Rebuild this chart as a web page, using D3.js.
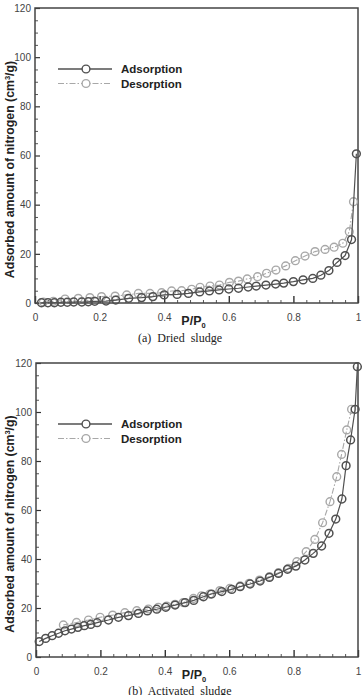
<!DOCTYPE html>
<html>
<head>
<meta charset="utf-8">
<script src="https://cdn.jsdelivr.net/npm/d3@7"></script>
<style>
  body { margin: 0; background: #fff; }
  svg { display: block; }
  .tick text { font-family: Arial, "Liberation Sans", sans-serif; font-size: 10px; fill: #444; }
</style>
</head>
<body>
<div id="chart"></div>
<script>
// 画布
const width = 362;
const height = 695;

// (a) 干污泥 吸附 / 脱附
const dryAdsP = [0.02,0.04,0.06,0.08,0.10,0.12,0.145,0.165,0.185,0.22,0.25,0.29,0.33,0.365,0.40,0.44,0.475,0.51,0.54,0.57,0.60,0.63,0.66,0.685,0.715,0.745,0.77,0.80,0.83,0.86,0.885,0.91,0.935,0.96,0.98,0.995];
const dryAdsV = [0.1,0.1,0.1,0.3,0.3,0.4,0.4,0.5,0.7,0.8,1.2,1.9,2.2,2.6,3.3,3.5,3.9,4.5,4.9,5.3,5.7,6.0,6.5,6.9,7.3,7.7,8.1,8.7,9.4,10.0,11.3,13.2,16.5,19.3,25.8,60.7];
const dryDesP = [0.986,0.973,0.953,0.926,0.898,0.867,0.836,0.806,0.776,0.746,0.717,0.689,0.657,0.630,0.602,0.571,0.542,0.511,0.485,0.454,0.423,0.392,0.356,0.320,0.284,0.248,0.206,0.170,0.134,0.093,0.057,0.026];
const dryDesV = [41.2,29.0,24.3,22.7,21.8,20.9,19.1,17.2,15.1,13.4,12.1,10.7,9.8,8.9,8.4,7.3,6.9,6.4,5.6,5.0,4.9,4.2,3.9,3.9,3.3,2.8,2.6,2.2,1.9,1.6,0.7,0.4];

// (b) 活性污泥 吸附 / 脱附
const actAdsP = [0.01,0.03,0.05,0.07,0.09,0.11,0.13,0.15,0.17,0.19,0.225,0.256,0.287,0.318,0.346,0.375,0.403,0.432,0.463,0.49,0.52,0.545,0.577,0.608,0.634,0.665,0.696,0.725,0.753,0.781,0.807,0.835,0.861,0.887,0.910,0.931,0.950,0.963,0.977,0.991,0.998];
const actAdsV = [6.3,7.6,8.7,9.7,10.7,11.4,12.1,12.8,13.3,14.0,15.1,16.2,16.9,17.8,18.8,19.5,20.3,21.2,22.2,23.1,24.6,25.7,26.7,27.6,28.7,29.8,31.0,32.5,34.1,35.8,37.1,39.6,42.3,45.3,50.5,56.3,64.5,78.1,88.6,101.1,118.5];
const actDesP = [0.980,0.965,0.949,0.934,0.913,0.890,0.866,0.839,0.810,0.784,0.753,0.725,0.694,0.662,0.634,0.602,0.571,0.540,0.514,0.489,0.457,0.432,0.406,0.380,0.349,0.313,0.276,0.238,0.199,0.163,0.126,0.085];
const actDesV = [101.1,92.7,82.7,73.6,63.4,54.8,48.0,43.0,38.9,36.2,34.4,32.8,31.4,30.1,29.0,28.0,27.1,25.7,25.0,23.9,22.2,21.5,20.8,20.3,19.6,18.9,18.1,17.1,16.2,15.1,14.1,13.1];

// 刻度
const xTicks = [0, 0.2, 0.4, 0.6, 0.8, 1];
const xTickLabels = ["0", "0.2", "0.4", "0.6", "0.8", "1"];
const yTicks = [0, 20, 40, 60, 80, 100, 120];
const legendNames = ["Adsorption", "Desorption"];

const adsColor = "#505050";
const desColor = "#a8a8a8";

const svg = d3.select("#chart")
    .append("svg")
    .attr("width", width)
    .attr("height", height);

function zip(ps, vs) {
    return ps.map((p, i) => ({ p: p, v: vs[i] }));
}

// 画一个面板
function drawPanel(opt) {
    const x = d3.scaleLinear().domain([0, 1]).range([opt.left, opt.right]);
    const y = d3.scaleLinear().domain([0, 120]).range([opt.bottom, opt.top]);
    const g = svg.append("g");

    // 次刻度
    const minorX = d3.range(0, 1.0001, 0.04).filter(v => Math.abs(v / 0.2 - Math.round(v / 0.2)) > 1e-6);
    const minorY = d3.range(0, 120.01, 5).filter(v => v % 20 !== 0);
    g.append("g")
        .attr("transform", `translate(0,${opt.bottom})`)
        .call(d3.axisBottom(x).tickValues(minorX).tickSize(-3).tickFormat(""))
        .call(a => a.select(".domain").remove())
        .call(a => a.selectAll("line").attr("stroke", "#555"));
    g.append("g")
        .attr("transform", `translate(${opt.left},0)`)
        .call(d3.axisLeft(y).tickValues(minorY).tickSize(-3).tickFormat(""))
        .call(a => a.select(".domain").remove())
        .call(a => a.selectAll("line").attr("stroke", "#555"));

    // 主刻度
    g.append("g")
        .attr("transform", `translate(0,${opt.bottom})`)
        .call(d3.axisBottom(x).tickValues(xTicks).tickSize(-7).tickPadding(11)
            .tickFormat((d, i) => xTickLabels[i]))
        .call(a => a.select(".domain").remove())
        .call(a => a.selectAll("line").attr("stroke", "#333").attr("stroke-width", 1.4));
    g.append("g")
        .attr("transform", `translate(${opt.left},0)`)
        .call(d3.axisLeft(y).tickValues(yTicks).tickSize(-5).tickPadding(4))
        .call(a => a.select(".domain").remove())
        .call(a => a.selectAll("line").attr("stroke", "#333").attr("stroke-width", 1.2));

    // 边框
    g.append("rect")
        .attr("x", opt.left).attr("y", opt.top)
        .attr("width", opt.right - opt.left).attr("height", opt.bottom - opt.top)
        .attr("fill", "none").attr("stroke", "#444").attr("stroke-width", 1.5);

    const line = d3.line().x(d => x(d.p)).y(d => y(d.v));
    const ads = zip(opt.adsP, opt.adsV);
    const des = zip(opt.desP, opt.desV);

    g.append("path").datum(des)
        .attr("d", line).attr("fill", "none")
        .attr("stroke", desColor).attr("stroke-width", 1.1)
        .attr("stroke-dasharray", "6,2,1.5,2");
    g.selectAll(".des").data(des).enter().append("circle")
        .attr("cx", d => x(d.p)).attr("cy", d => y(d.v)).attr("r", 3.9)
        .attr("fill", "none").attr("stroke", desColor).attr("stroke-width", 1.4);

    g.append("path").datum(ads)
        .attr("d", line).attr("fill", "none")
        .attr("stroke", adsColor).attr("stroke-width", 1.2);
    g.selectAll(".ads").data(ads).enter().append("circle")
        .attr("cx", d => x(d.p)).attr("cy", d => y(d.v)).attr("r", 3.9)
        .attr("fill", "none").attr("stroke", adsColor).attr("stroke-width", 1.5);

    // 图例
    const lg = g.append("g");
    [adsColor, desColor].forEach((c, i) => {
        const ly = opt.legendY + i * 14.5;
        lg.append("line")
            .attr("x1", 58).attr("x2", 112).attr("y1", ly).attr("y2", ly)
            .attr("stroke", c).attr("stroke-width", i === 0 ? 1.3 : 1.1)
            .attr("stroke-dasharray", i === 0 ? null : "6,2,1.5,2");
        lg.append("circle")
            .attr("cx", 86).attr("cy", ly).attr("r", 3.9)
            .attr("fill", "#fff").attr("stroke", c).attr("stroke-width", 1.4);
        lg.append("text")
            .attr("x", 121).attr("y", ly + 4)
            .attr("font-family", "Arial, 'Liberation Sans', sans-serif")
            .attr("font-weight", "bold").attr("font-size", 11.5).attr("fill", "#222")
            .text(legendNames[i]);
    });

    // 轴标题
    const xt = g.append("text")
        .attr("x", (opt.left + opt.right) / 2 - 3).attr("y", opt.bottom + 22)
        .attr("text-anchor", "middle")
        .attr("font-family", "Arial, 'Liberation Sans', sans-serif")
        .attr("font-weight", "bold").attr("font-size", 12.5).attr("fill", "#222");
    xt.append("tspan").text("P/P");
    xt.append("tspan").attr("font-size", 7.5).attr("dy", 3).text("0");

    const yt = g.append("text")
        .attr("transform", `translate(14,${(opt.top + opt.bottom) / 2 + 14}) rotate(-90)`)
        .attr("text-anchor", "middle")
        .attr("font-family", "Arial, 'Liberation Sans', sans-serif")
        .attr("font-weight", "bold").attr("font-size", 12.3).attr("fill", "#222");
    yt.append("tspan").text("Adsorbed amount of nitrogen (cm");
    yt.append("tspan").attr("font-size", 7.5).attr("dy", -4.5).text("3");
    yt.append("tspan").attr("dy", 4.5).text("/g)");

    // 图注
    g.append("text")
        .attr("x", 180).attr("y", opt.captionY)
        .attr("text-anchor", "middle")
        .attr("font-family", "'Liberation Serif', 'Times New Roman', serif")
        .attr("font-size", 12).attr("fill", "#222")
        .attr("xml:space", "preserve")
        .text(opt.caption);
}

drawPanel({
    left: 35, right: 358, top: 8, bottom: 303,
    adsP: dryAdsP, adsV: dryAdsV, desP: dryDesP, desV: dryDesV,
    legendY: 69, captionY: 342, caption: "(a)  Dried  sludge"
});

drawPanel({
    left: 36, right: 358, top: 363, bottom: 657,
    adsP: actAdsP, adsV: actAdsV, desP: actDesP, desV: actDesV,
    legendY: 424, captionY: 695, caption: "(b)  Activated  sludge"
});
</script>
</body>
</html>
